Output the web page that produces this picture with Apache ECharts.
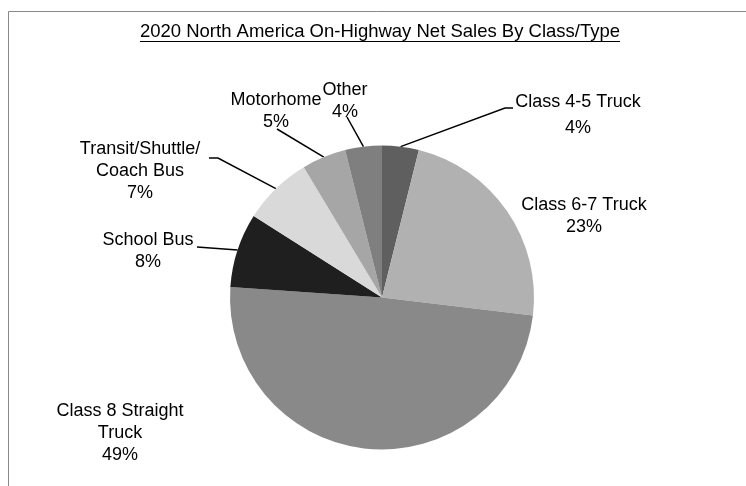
<!DOCTYPE html>
<html>
<head>
<meta charset="utf-8">
<script src="https://cdn.jsdelivr.net/npm/echarts@6/dist/echarts.min.js"></script>
<style>
html,body{margin:0;padding:0;background:#fff;overflow:hidden;}
#c{width:746px;height:486px;}
</style>
</head>
<body>
<div id="c"></div>
<script>
// ---- data ----
const titleText = '2020 North America On-Highway Net Sales By Class/Type';
const categories = ['Class 4-5 Truck', 'Class 6-7 Truck', 'Class 8 Straight\nTruck', 'School Bus', 'Transit/Shuttle/\nCoach Bus', 'Motorhome', 'Other'];
const shares = [3.9, 23.0, 49.2, 7.9, 7.4, 4.7, 3.9];

// ---- styling / layout ----
const sliceColors = ['#5f5f5f', '#b1b1b1', '#898989', '#1f1f1f', '#d9d9d9', '#a6a6a6', '#7f7f7f'];
const labelPos = [[578, 115], [584, 216], [120, 433], [148, 251], [140, 171], [276, 111], [345, 101]];
// leader-line bend/end points next to each label (null = no leader line)
const leaderEnds = [
  [[505, 108], [513, 108]],
  null,
  null,
  [[197, 247]],
  [[218, 158], [209, 158]],
  [[277, 129]],
  [[347, 117]]
];
const FONT = '"Liberation Sans", Arial, sans-serif';

const chart = echarts.init(document.getElementById('c'), null, {renderer: 'canvas'});

const cv = document.createElement('canvas').getContext('2d');
cv.font = '18.5px "Liberation Sans"';
const tw = cv.measureText(titleText).width;
const tcx = 380;

chart.setOption({
  animation: false,
  backgroundColor: '#ffffff',
  graphic: [
    {type: 'polyline', shape: {points: [[8.5, 500], [8.5, 11.5], [760, 11.5]]}, style: {fill: 'none', stroke: '#888888', lineWidth: 1}, silent: true},
    {type: 'text', x: tcx, y: 32, style: {text: titleText, font: '18.5px ' + FONT, fill: '#000', align: 'center', verticalAlign: 'middle'}},
    {type: 'line', shape: {x1: tcx - tw / 2, y1: 41.5, x2: tcx + tw / 2, y2: 41.5}, style: {stroke: '#000', lineWidth: 1}}
  ],
  series: [{
    type: 'pie',
    center: [382, 297.5],
    radius: 152,
    startAngle: 90,
    clockwise: true,
    avoidLabelOverlap: false,
    emphasis: {disabled: true},
    label: {
      show: true,
      position: 'outside',
      fontFamily: FONT,
      fontSize: 18,
      color: '#000',
      lineHeight: 22,
      align: 'center',
      formatter: p => p.name + '\n' + Math.round(p.percent) + '%'
    },
    labelLine: {show: true, length: 10, length2: 10, lineStyle: {color: '#000', width: 1.5}},
    labelLayout: p => {
      const i = p.dataIndex;
      const out = {x: labelPos[i][0], y: labelPos[i][1], align: 'center', verticalAlign: 'middle'};
      if (leaderEnds[i] && p.labelLinePoints) {
        out.labelLinePoints = [p.labelLinePoints[0]].concat(leaderEnds[i]);
      }
      return out;
    },
    data: categories.map((c, i) => ({
      name: c,
      value: shares[i],
      itemStyle: {color: sliceColors[i]},
      labelLine: {show: !!leaderEnds[i]},
      label: i === 0 ? {lineHeight: 26} : {}
    }))
  }]
});
</script>
</body>
</html>
